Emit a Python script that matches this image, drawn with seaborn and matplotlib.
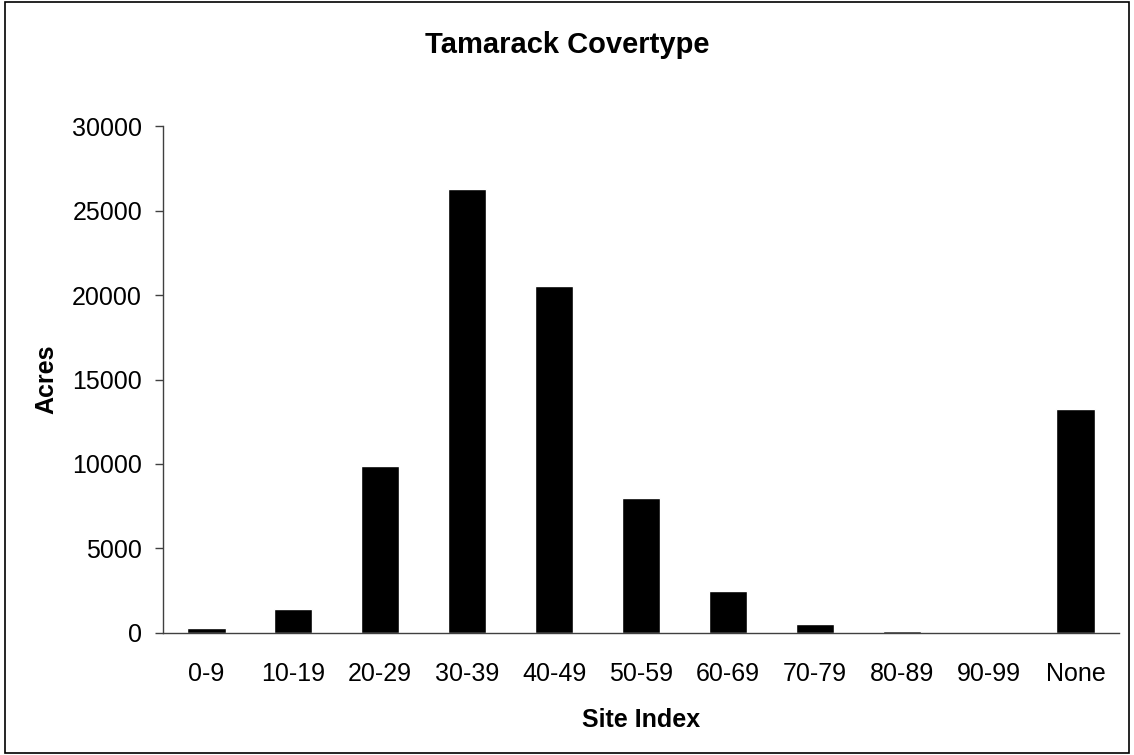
import numpy as np
import pandas as pd
import seaborn as sns
import matplotlib.pyplot as plt
from matplotlib.patches import Rectangle
from matplotlib.ticker import FixedLocator

# site index classes and acres
site_index = ["0-9", "10-19", "20-29", "30-39", "40-49", "50-59",
              "60-69", "70-79", "80-89", "90-99", "None"]
acres = [320, 1400, 9900, 26250, 20550, 8000, 2500, 560, 120, 0, 13250]
y_ticks = [0, 5000, 10000, 15000, 20000, 25000, 30000]

df = pd.DataFrame({"site": site_index, "acres": acres})

sns.set_style("white")
plt.rcParams["font.family"] = ["Liberation Sans", "DejaVu Sans"]
plt.rcParams["text.color"] = "black"
plt.rcParams["axes.labelcolor"] = "black"
plt.rcParams["xtick.color"] = "black"
plt.rcParams["ytick.color"] = "black"

fig = plt.figure(figsize=(11.34, 7.55), dpi=100)
ax = fig.add_axes([0.1437, 0.1616, 0.8431, 0.6715])

sns.barplot(x="site", y="acres", data=df, color="black", width=0.44,
            saturation=1, ax=ax)

ax.set_xlim(-0.5, 10.5)
ax.set_ylim(0, 30000)
ax.set_yticks(y_ticks)
ax.set_yticklabels([str(v) for v in y_ticks], fontsize=18)
ax.set_xticks(range(len(site_index)))
ax.set_xticklabels(site_index, fontsize=18)
# tick marks sit between categories like in a spreadsheet chart
ax.xaxis.set_minor_locator(FixedLocator(np.arange(-0.5, 11, 1)))
ax.tick_params(axis="x", which="major", length=0, pad=21)
ax.tick_params(axis="x", which="minor", length=6, width=1, color="#404040", direction="out")
ax.tick_params(axis="y", which="major", length=6, width=1, color="#404040",
               direction="out", pad=9, left=True)

for side in ["top", "right"]:
    ax.spines[side].set_visible(False)
for side in ["left", "bottom"]:
    ax.spines[side].set_color("#404040")
    ax.spines[side].set_linewidth(1)

fig.suptitle("Tamarack Covertype", fontsize=21, fontweight="bold", y=0.94, va="center")
ax.set_xlabel("Site Index", fontsize=18, fontweight="bold", labelpad=16)
ax.set_ylabel("Acres", fontsize=18, fontweight="bold", labelpad=10)

# frame round the whole figure
fig.patches.append(Rectangle((0.004, 0.003), 0.992, 0.994, transform=fig.transFigure,
                             fill=False, edgecolor="black", linewidth=1.2))

fig.savefig("out.png", dpi=100)
